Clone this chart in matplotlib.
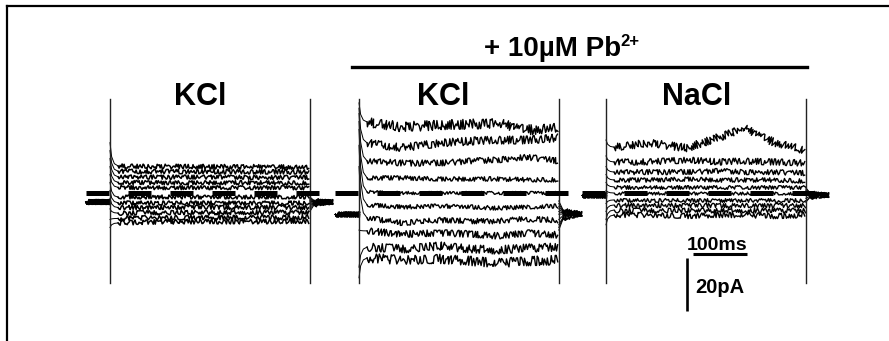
import matplotlib.pyplot as plt
from matplotlib.lines import Line2D

plt.rcParams["font.family"] = ["Liberation Sans", "DejaVu Sans"]
plt.rcParams["font.weight"] = "bold"

W, H = 889, 341
MS_PER_PX = 100 / 54     # from the 100 ms scale bar
PA_PER_PX = 20 / 53      # from the 20 pA scale bar
ZERO_PX = 193            # zero-current level, pixels from the top

# ---------------------------------------------------------------------------
# Recording data
# ---------------------------------------------------------------------------
PULSE_MS = 370
PRE_MS = 45
POST_MS = 42
KNOT_MS = [15, 80, 150, 210, 255, 310, 368]    # sample times inside the pulse
DECAY_MS = [0, 3, 8]                           # onset transient
DECAY_FRAC = [1.0, 0.4, 0.1]

PANEL_LABELS = ["KCl", "KCl", "NaCl"]

# control, KCl
KCL_SWEEPS = [
    [10.2, 10.0, 10.0, 9.9, 9.9, 9.8, 9.6],
    [8.2, 8.1, 8.1, 8.0, 8.0, 8.0, 7.9],
    [6.1, 6.0, 6.0, 6.0, 5.9, 5.9, 5.9],
    [4.0, 3.9, 3.9, 3.9, 3.9, 3.8, 3.8],
    [2.1, 2.0, 2.0, 2.0, 2.0, 2.0, 1.9],
    [-1.6, -1.6, -1.6, -1.6, -1.6, -1.6, -1.6],
    [-3.7, -3.7, -3.7, -3.7, -3.7, -3.7, -3.7],
    [-5.5, -5.4, -5.4, -5.4, -5.4, -5.4, -5.4],
    [-7.6, -7.4, -7.4, -7.4, -7.3, -7.3, -7.3],
    [-9.6, -9.3, -9.3, -9.3, -9.3, -9.2, -9.2],
    [-11.3, -10.9, -10.8, -10.8, -10.8, -10.7, -10.6],
]
KCL_ONSET = [19, 16, 13, 10, 7, 4, 1, -2, -6, -10, -13]
KCL_TAIL = [-1.5, -2.0, -2.5, -3.0, -3.0, -3.5, -4.0, -4.5, -5.0, -6.0, -7.0]
KCL_HOLD = -3.4

# + 10 uM Pb2+, KCl
PB_KCL_SWEEPS = [
    [26.8, 24.9, 25.7, 26.0, 26.4, 23.8, 24.5],
    [18.9, 17.0, 18.9, 19.6, 20.0, 20.0, 20.8],
    [12.1, 11.3, 11.3, 12.1, 12.5, 13.6, 12.1],
    [5.7, 5.7, 5.3, 5.3, 5.3, 5.0, 5.0],
    [0.4, 0.0, 0.0, 0.0, 0.0, 0.0, 0.0],
    [-4.5, -5.3, -4.9, -5.3, -5.7, -5.3, -4.9],
    [-9.4, -11.3, -10.2, -10.6, -10.6, -9.8, -10.2],
    [-14.3, -15.5, -15.1, -15.5, -16.2, -15.1, -15.8],
    [-20.4, -21.1, -20.0, -21.1, -21.5, -20.8, -20.4],
    [-24.5, -25.3, -24.9, -25.7, -26.4, -25.7, -25.3],
]
PB_KCL_ONSET = [34, 32, 30, 27, 24, 18, 10, -14, -28, -32]
PB_KCL_TAIL = [-3, -4, -5, -6, -7, -8, -10, -12, -13, -14]
PB_KCL_HOLD = -7.9

# + 10 uM Pb2+, NaCl
PB_NACL_SWEEPS = [
    [17.3, 18.9, 17.0, 21.1, 24.5, 19.2, 16.2],
    [11.7, 11.7, 12.5, 11.7, 12.1, 11.7, 11.3],
    [7.9, 7.9, 7.9, 8.3, 7.9, 7.9, 7.5],
    [4.9, 4.9, 5.3, 4.9, 4.9, 4.9, 4.5],
    [2.3, 2.3, 2.3, 2.3, 2.3, 2.3, 2.3],
    [0.0, 0.0, 0.0, 0.0, 0.0, 0.0, 0.0],
    [-2.6, -2.6, -2.6, -2.6, -2.6, -2.6, -2.6],
    [-4.5, -4.5, -4.5, -4.5, -4.5, -4.5, -4.5],
    [-6.4, -6.4, -6.4, -6.4, -6.4, -6.4, -6.4],
    [-8.3, -8.3, -8.7, -8.3, -8.3, -8.7, -8.3],
]
PB_NACL_ONSET = [20, 14, 10, 7, 4, 1, -4, -7, -10, -12]
PB_NACL_TAIL = [2.0, 1.5, 1.0, 0.5, 0.0, -0.5, -1.0, -2.0, -3.0, -3.5]
PB_NACL_HOLD = -0.8

SCALE_MS = 100
SCALE_PA = 20

# ---------------------------------------------------------------------------
# Layout (pixels of the 889x341 canvas) and styles
# ---------------------------------------------------------------------------
PANEL_T0 = [110 * MS_PER_PX, 359 * MS_PER_PX, 606 * MS_PER_PX]
PANEL_NOISE = [(1.9, 0.04), (1.5, 0.13), (1.5, 0.14)]   # sketch amplitude px
PANEL_LW = [1.1, 1.0, 1.0]
LABEL_X_PX = [200, 443, 697]


def px(x, y):
    """Canvas pixel -> axes fraction."""
    return x / W, 1 - y / H


def draw_panel(ax, t0, sweeps, onset, tail, hold, noise, lw):
    base, gain = noise
    t_end = t0 + PULSE_MS
    for i, (row, peak, tl) in enumerate(zip(sweeps, onset, tail)):
        first = row[0]
        wig = 0.5 + 0.05 * i          # vary the wiggle so sweeps differ
        amp = float(base + gain * abs(first))

        # baseline before the pulse
        ln, = ax.plot([t0 - PRE_MS, t0], [hold, hold], color="black", lw=lw)
        ln.set_sketch_params(2.4, wig, 10.0)

        # capacitive transient at onset (smooth)
        td = [t0 + d for d in DECAY_MS] + [t0 + KNOT_MS[0]]
        yd = [first + (peak - first) * f for f in DECAY_FRAC] + [first]
        ax.plot(td, yd, color="black", lw=0.7)

        # steady part of the pulse (noisy)
        ln, = ax.plot([t0 + k for k in KNOT_MS], row, color="black", lw=lw)
        ln.set_sketch_params(amp, wig, 10.0)

        # tail current after the pulse
        mid = hold + (tl - hold) * 0.3
        ax.plot([t_end, t_end + 8], [tl, mid], color="black", lw=0.7)
        ln, = ax.plot([t_end + 8, t_end + POST_MS], [mid, hold],
                      color="black", lw=lw)
        ln.set_sketch_params(2.2, wig, 10.0)

    # pulse on / off markers
    for tm in (t0, t_end):
        ax.plot([tm, tm], [35.5, -34.0], color="#222222", lw=1.0, zorder=3)

    # dashed zero-current line
    ax.plot([t0 - PRE_MS, t_end + 17], [0, 0], color="black",
            lw=3.6, linestyle=(0, (4.6, 3.8)), dash_capstyle="butt",
            zorder=4)


fig = plt.figure(figsize=(W / 100, H / 100), dpi=100)
ax = fig.add_axes([0, 0, 1, 1])
ax.set_xlim(0, W * MS_PER_PX)
ax.set_ylim(-(H - ZERO_PX) * PA_PER_PX, ZERO_PX * PA_PER_PX)
ax.axis("off")

panels = [
    (KCL_SWEEPS, KCL_ONSET, KCL_TAIL, KCL_HOLD),
    (PB_KCL_SWEEPS, PB_KCL_ONSET, PB_KCL_TAIL, PB_KCL_HOLD),
    (PB_NACL_SWEEPS, PB_NACL_ONSET, PB_NACL_TAIL, PB_NACL_HOLD),
]
for t0, (sw, on, tl, hd), nz, lw in zip(PANEL_T0, panels, PANEL_NOISE,
                                       PANEL_LW):
    draw_panel(ax, t0, sw, on, tl, hd, nz, lw)

# panel labels
for lbl, xl in zip(PANEL_LABELS, LABEL_X_PX):
    ax.text(*px(xl, 105), lbl, transform=ax.transAxes, ha="center",
            va="baseline", fontsize=22, fontweight="bold")

# Pb2+ bracket
title = ax.text(*px(553, 56), "+ 10µM Pb", transform=ax.transAxes,
                ha="center", va="baseline", fontsize=20, fontweight="bold")
ax.annotate("2+", xy=(1, 1), xycoords=title, xytext=(-0.5, 1.5),
            textcoords="offset points", ha="left", va="top",
            fontsize=12, fontweight="bold")
ax.add_line(Line2D([352 / W, 807 / W], [1 - 67 / H] * 2, color="black",
                   lw=2.4, transform=ax.transAxes))

# scale bars
sx = 693 * MS_PER_PX
sy = (ZERO_PX - 254) * PA_PER_PX
ax.plot([sx, sx + SCALE_MS], [sy, sy], color="black", lw=2.2,
        solid_capstyle="butt")
vx = 687 * MS_PER_PX
vy = (ZERO_PX - 258) * PA_PER_PX
ax.plot([vx, vx], [vy, vy - SCALE_PA], color="black", lw=1.9,
        solid_capstyle="butt")
ax.text(*px(717, 250), f"{SCALE_MS}ms", transform=ax.transAxes,
        ha="center", va="baseline", fontsize=14, fontweight="bold")
ax.text(*px(695, 293), f"{SCALE_PA}pA", transform=ax.transAxes,
        ha="left", va="baseline", fontsize=14.5, fontweight="bold")

# frame (top and left edges only)
fig.add_artist(Line2D([7 / W, 7 / W], [0, 1 - 6 / H], color="black",
                      lw=1.6, transform=fig.transFigure))
fig.add_artist(Line2D([7 / W, 1], [1 - 6 / H] * 2, color="black",
                      lw=1.6, transform=fig.transFigure))

fig.savefig("out.png", dpi=100, facecolor="white")
